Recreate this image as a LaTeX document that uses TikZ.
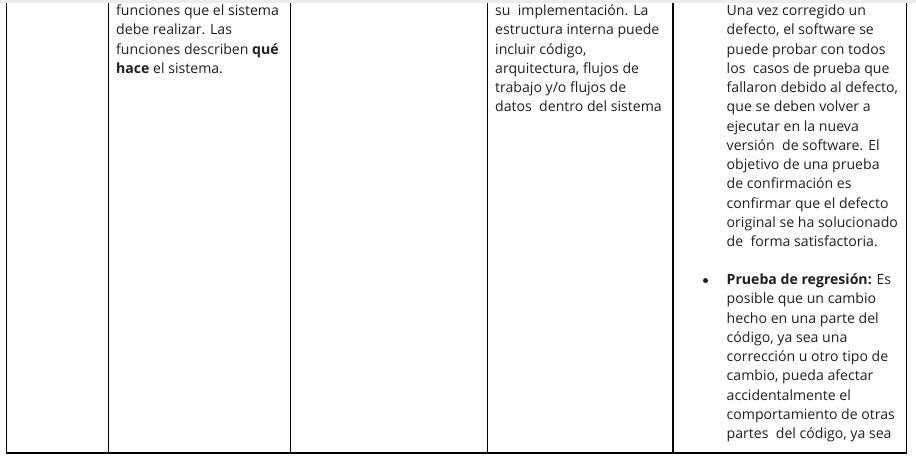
\documentclass[tikz,border=0pt]{standalone}
\usepackage{fontspec}
\setmainfont{Open Sans}
\begin{document}
\begin{tikzpicture}[x=1pt,y=-1pt,
  txt/.style={inner sep=0pt, anchor=base west, font=\fontsize{14.1}{17}\selectfont, text=black!88},
  rule/.style={draw=black, line width=1.3pt},
  bulletdot/.style={circle, fill=black!88, inner sep=0pt, minimum size=5pt}]
\useasboundingbox (0,0) rectangle (916,475);
\fill[black!7] (0,0) rectangle (916,3.2);
% table borders
\draw[rule] (6.7,3.2) -- (6.7,453) -- (906.7,453) -- (906.7,3.2);
\foreach \xx in {108.5,290.5,487.5,673} \draw[rule] (\xx,3.2) -- (\xx,453);
% column 2
\foreach [count=\i] \t in {funciones que el sistema, debe realizar. Las, funciones describen \textbf{qué}, \textbf{hace} el sistema.}
  \node[txt] (b\i) at (116,{15.5+(\i-1)*19.27}) {\t};
% column 4
\foreach [count=\i] \t in {su~ implementación. La, estructura interna puede, {incluir código,}, {arquitectura, flujos de}, trabajo y/o flujos de, datos~ dentro del sistema}
  \node[txt] (d\i) at (495,{15.5+(\i-1)*19.27}) {\t};
% column 5
\foreach [count=\i] \t in {Una vez corregido un, {defecto, el software se}, puede probar con todos, los~ casos de prueba que, {fallaron debido al defecto,}, que se deben volver a, ejecutar en la nueva, versión~ de software. El, objetivo de una prueba, de confirmación es, confirmar que el defecto, original se ha solucionado, de~ forma satisfactoria.}
  \node[txt] (e\i) at (726.5,{15.5+(\i-1)*19.27}) {\t};
\node[bulletdot] (dot) at (705.5,280.5) {};
\foreach [count=\i] \t in {\textbf{Prueba de regresión:} Es, posible que un cambio, hecho en una parte del, {código, ya sea una}, corrección u otro tipo de, {cambio, pueda afectar}, accidentalmente el, comportamiento de otras, {partes~ del código, ya sea}}
  \node[txt] (f\i) at (726.5,{284.5+(\i-1)*19.27}) {\t};
\end{tikzpicture}
\end{document}
